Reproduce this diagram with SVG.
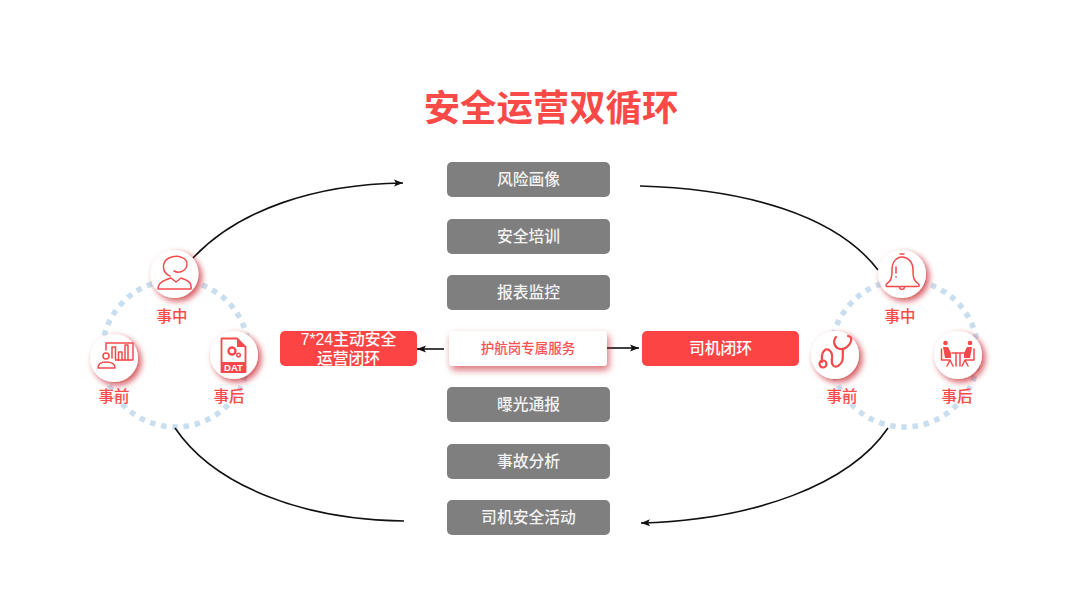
<svg xmlns="http://www.w3.org/2000/svg" width="1080" height="609" viewBox="0 0 1080 609">
<style>
text{font-family:"Noto Sans CJK SC","Liberation Sans",sans-serif;text-anchor:middle}
.g{fill:#7f7f7f}
.gt{fill:#f2f2f2;font-size:15.800px;font-weight:500}
.r{fill:#fc4444}
.wt{fill:#fff;font-size:15.800px;font-weight:500}
.wl{font-family:"Liberation Sans","Noto Sans CJK SC",sans-serif}
.lb{fill:#fb4b4b;font-size:15.500px;font-weight:500}
.dot{fill:none;stroke:#c9dff0;stroke-width:5.500;stroke-dasharray:5.500 5.800}
.c{fill:none;stroke:#111;stroke-width:1.6}
.i{fill:none;stroke:#f6494b;stroke-width:1.5;stroke-linecap:round;stroke-linejoin:round}
.f{fill:#f6494b;stroke:none}
.ci{fill:#fff;filter:url(#sh)}
</style>
<defs>
<filter id="sh" x="-40%" y="-40%" width="190%" height="190%"><feDropShadow dx="3" dy="3" stdDeviation="3.200" flood-color="#c4161e" flood-opacity=".75"/></filter>
<filter id="sc" x="-20%" y="-50%" width="140%" height="220%"><feDropShadow dx="2" dy="4" stdDeviation="3.500" flood-color="#c4161e" flood-opacity=".6"/></filter>
<marker id="a" markerUnits="userSpaceOnUse" markerWidth="10" markerHeight="8" refX="9" refY="4" orient="auto"><path d="M0 .5L9 4L0 7.5L2 4Z" fill="#111"/></marker>
</defs>
<rect width="1080" height="609" fill="#fff"/>
<text id="title" x="551" y="121" fill="#fa4a48" style="font-size:36.400px;font-weight:600">安全运营双循环</text>
<circle class="dot" cx="175.500" cy="353.500" r="73.500"/>
<circle class="dot" cx="904.500" cy="353.500" r="73.500"/>
<g id="connectors">
<path class="c" marker-end="url(#a)" d="M193 258C238 210 315 184 403 183"/>
<path class="c" d="M640 186C745 189 836 215 878 270"/>
<path class="c" d="M175 428C215 487 305 520 404 521"/>
<path class="c" marker-end="url(#a)" d="M888 428C850 484 755 520 641 523"/>
<path class="c" marker-end="url(#a)" d="M444 349H417"/>
<path class="c" marker-end="url(#a)" d="M607 348H639"/>
</g>
<g id="n1"><rect class="g" x="447" y="162" width="163" height="35" rx="5"/><text class="gt" x="528.500" y="185">风险画像</text></g>
<g id="n2"><rect class="g" x="447" y="219" width="163" height="35" rx="5"/><text class="gt" x="528.500" y="241.500">安全培训</text></g>
<g id="n3"><rect class="g" x="447" y="275" width="163" height="35" rx="5"/><text class="gt" x="528.500" y="298">报表监控</text></g>
<g id="n4"><rect x="449" y="331" width="158" height="35" rx="4" fill="#fff" filter="url(#sc)"/><text x="528" y="353" fill="#fc5050" style="font-size:13.500px;font-weight:500">护航岗专属服务</text></g>
<g id="n5"><rect class="g" x="447" y="387" width="163" height="35" rx="5"/><text class="gt" x="528.500" y="410">曝光通报</text></g>
<g id="n6"><rect class="g" x="447" y="444" width="163" height="35" rx="5"/><text class="gt" x="528.500" y="466.500">事故分析</text></g>
<g id="n7"><rect class="g" x="447" y="500" width="163" height="35" rx="5"/><text class="gt" x="528.500" y="523">司机安全活动</text></g>
<g id="left-box"><rect class="r" x="280" y="331" width="137" height="35" rx="5"/><text class="wt wl" x="348.500" y="344.500">7*24主动安全</text><text class="wt wl" x="348.500" y="363.500">运营闭环</text></g>
<g id="right-box"><rect class="r" x="642" y="331" width="157" height="35" rx="5"/><text class="wt" x="720.500" y="354">司机闭环</text></g>
<g id="l-mid"><circle class="ci" cx="174.500" cy="274" r="24"/>
<path class="i" d="M170 276C162 273 161 262 169 258C178 254 188 258 187 265C186 271 179 274 174 271"/><path class="i" d="M158 289C158 282 165 280 171 278L176 282L181 278C187 280 192 282 191 289Z"/>
<text class="lb" x="172" y="322">事中</text></g>
<g id="l-pre"><circle class="ci" cx="114" cy="358" r="24"/>
<path class="i" d="M106 343H133V360H116M106 343V350"/><path class="i" d="M112 358V347H115.500V360M118.500 360V352H122V360M125 360V345H128V360"/><circle class="i" cx="106" cy="356" r="3"/><path class="i" d="M98 368C98 363 102 362 106 362C110 362 115 363 115 368Z"/>
<text class="lb" x="114" y="402">事前</text></g>
<g id="l-post"><circle class="ci" cx="234" cy="355" r="24"/>
<path class="i" d="M221.500 372V338.500H237L245.500 347V372Z" style="stroke-width:1.800"/><path class="f" d="M221 362H246V372.500H221ZM237 338L246 347H237Z"/><circle class="i" cx="232" cy="351" r="3.500" style="stroke-width:2.400;stroke-dasharray:2 .8"/><circle class="i" cx="238.500" cy="355" r="1.800"/>
<text x="233.500" y="371" fill="#fff" style="font-size:9.500px;font-weight:700;font-family:'Liberation Sans',sans-serif">DAT</text>
<text class="lb" x="229" y="402">事后</text></g>
<g id="r-mid"><circle class="ci" cx="902" cy="274" r="24"/>
<path class="i" d="M886.500 284C891 281 892 278 892 270C892 261 897 257 902 257C907 257 913 261 913 270C913 278 914 281 918.500 284C920 286 919 286.500 917 286.500H888C886 286.500 885.500 286 886.500 284Z"/><path class="i" d="M900 254H904M899.500 287.500C900 290 904 290 904.500 287.500"/><path class="i" d="M896 267V273M896 276.500V277"/>
<text class="lb" x="900" y="322">事中</text></g>
<g id="r-pre"><circle class="ci" cx="835" cy="355" r="24"/>
<path class="i" d="M836 337C832 342 835 348 840 349C845 350 850 345 851 341C852 338 850 336 848 336M843 349C842 355 845 362 838 366C833 368 831 364 832 358C833 351 827 347 824 351C821 354 822 358 822 362" style="stroke-width:2.200"/><circle class="i" cx="823" cy="364" r="3.500" style="stroke-width:2.200"/>
<text class="lb" x="842" y="402">事前</text></g>
<g id="r-post"><circle class="ci" cx="958" cy="355" r="24"/>
<circle class="f" cx="945.500" cy="343" r="2.300"/><circle class="f" cx="970" cy="343" r="2.300"/>
<path class="f" d="M943 347H948L951 353V358H945ZM972 347H967L964 353V358H970Z"/>
<path class="i" d="M941.500 349V360H950L953 366M974 349V360H965L962 366M952 353H965M956 354V366M960 354V366M947 366L950 360M968 366L965 360"/>
<text class="lb" x="957" y="402">事后</text></g>
</svg>
